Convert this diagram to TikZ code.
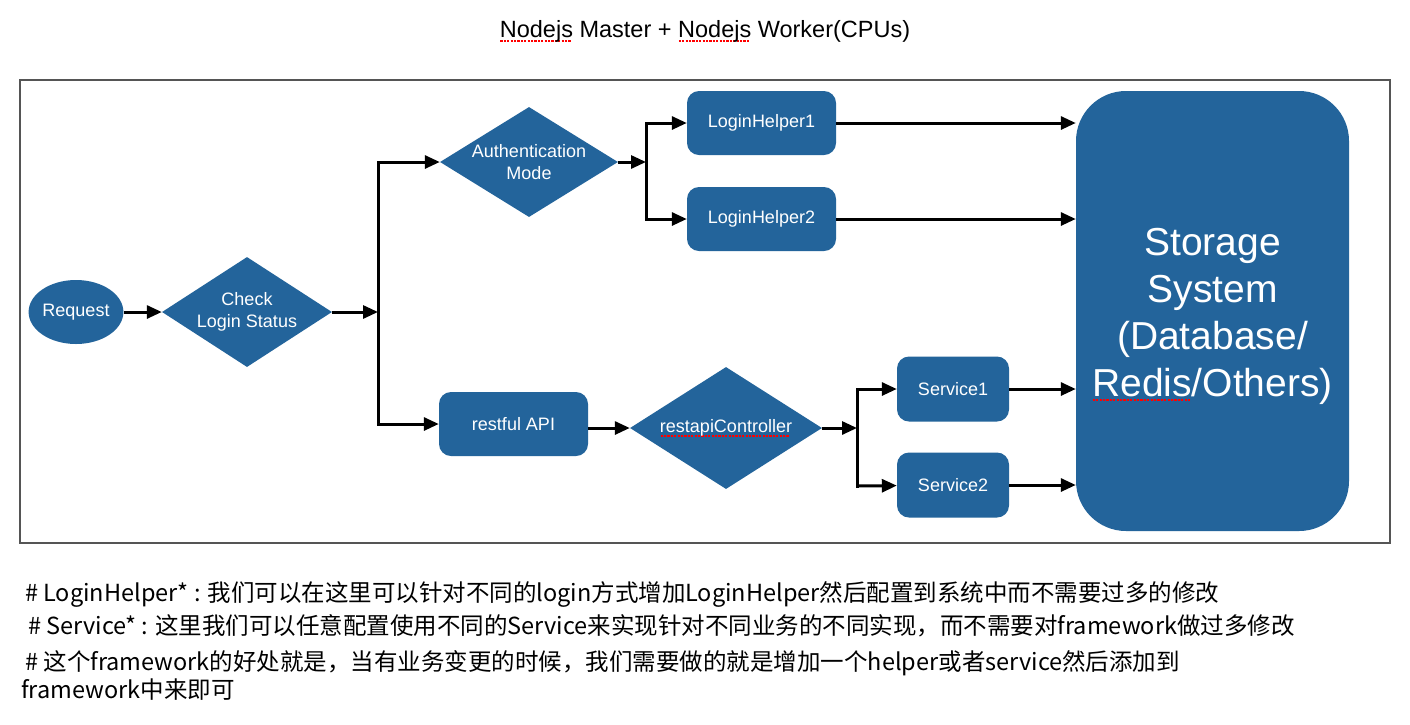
\documentclass[tikz,border=0pt]{standalone}
\usepackage{fontspec}
\setmainfont{Liberation Sans}
\newfontfamily\cjk{Noto Sans CJK SC}
\usetikzlibrary{shapes.geometric,arrows.meta}
\definecolor{boxblue}{RGB}{35,100,155}
\definecolor{framegray}{RGB}{85,85,85}
\newcommand\spellmark[1]{\setbox0=\hbox{#1}\rlap{\raisebox{-4.5pt}{\color{red}\leaders\hbox to 3.4pt{\hss\rule{2.2pt}{2pt}\hss}\hskip\wd0}}\box0\relax}
\begin{document}
\begin{tikzpicture}[x=1pt,y=-1pt,
  blueshape/.style={fill=boxblue, draw=none, text=white, font=\fontsize{18}{21.6}\selectfont, align=center, inner sep=0pt},
  roundbox/.style={blueshape, rectangle, rounded corners=12pt, minimum width=149pt, minimum height=64pt},
  decision/.style={blueshape, diamond},
  arr/.style={line width=3pt, -{Triangle[length=15pt,width=13pt]}},
  barline/.style={line width=3pt, line cap=rect},
  note/.style={anchor=west, inner sep=0pt, font=\cjk\fontsize{23.5}{28}\selectfont}
]
\useasboundingbox (0,0) rectangle (1410,724);
\fill[white] (0,0) rectangle (1410,724);

% title
\node[font=\fontsize{23.5}{27}\selectfont] (title) at (705,31) {\spellmark{Nodejs} Master + \spellmark{Nodejs} Worker(CPUs)};

% frame
\draw[framegray, line width=1.6pt] (20,80) rectangle (1390,543);

% nodes
\node[blueshape, ellipse, minimum width=94pt, minimum height=64pt] (req) at (76,312) {Request};
\node[decision, aspect=1.545, minimum width=170pt, minimum height=110pt] (check) at (247,312) {Check\\Login Status};
\node[decision, aspect=1.618, minimum width=178pt, minimum height=110pt] (auth) at (529,162) {Authentication\\Mode};
\node[roundbox] (lh1) at (761.5,123) {LoginHelper1};
\node[roundbox] (lh2) at (761.5,219) {LoginHelper2};
\node[roundbox] (rest) at (513.5,424) {restful API};
\node[decision, aspect=1.574, minimum width=192pt, minimum height=122pt] (ctrl) at (726,428) {\spellmark{restapiController}};
\node[roundbox, minimum width=112pt, minimum height=65pt] (s1) at (953,389) {Service1};
\node[roundbox, minimum width=112pt, minimum height=65pt] (s2) at (953,485) {Service2};
\node[blueshape, rectangle, rounded corners=50pt, minimum width=273pt, minimum height=440pt] (stor) at (1212.5,311) {};
\node[text=white, align=center, inner sep=0pt, font=\fontsize{39}{47}\selectfont] (stortext) at (1212.5,316) {Storage\\System\\(Database/\\\spellmark{Redis}/Others)};

% junction coordinates
\coordinate (b1) at (378,312);
\coordinate (b1t) at (378,162);
\coordinate (b1b) at (378,424);
\coordinate (b2) at (646,162);
\coordinate (b2t) at (646,123);
\coordinate (b2b) at (646,219);
\coordinate (b3) at (857,428);
\coordinate (b3t) at (857,389);
\coordinate (b3b) at (857,486);

% connectors
\draw[arr] (req) -- (check);
\draw[arr] (check) -- (b1);
\draw[barline] (b1t) -- (b1b);
\draw[arr] (b1t) -- (auth);
\draw[arr] (b1b) -- (rest);
\draw[arr] (auth.east) -- (b2);
\draw[barline] (b2t) -- (b2b);
\draw[arr] (b2t) -- (lh1);
\draw[arr] (b2b) -- (lh2);
\draw[arr] (lh1) -- (lh1 -| stor.west);
\draw[arr] (lh2) -- (lh2 -| stor.west);
\draw[arr] (rest.east |- ctrl) -- (ctrl);
\draw[arr] (ctrl.east) -- (b3);
\draw[barline] (b3t) -- (b3b);
\draw[arr] (b3t) -- (s1);
\draw[arr] (b3b) -- (s2);
\draw[arr] (s1) -- (s1 -| stor.west);
\draw[arr] (s2) -- (s2 -| stor.west);

% notes
\node[note] (n1) at (25,594) {\# LoginHelper* : 我们可以在这里可以针对不同的login方式增加LoginHelper然后配置到系统中而不需要过多的修改};
\node[note] (n2) at (28,626) {\# Service* : 这里我们可以任意配置使用不同的Service来实现针对不同业务的不同实现，而不需要对framework做过多修改};
\node[note] (n3) at (25,663) {\# 这个framework的好处就是，当有业务变更的时候，我们需要做的就是增加一个helper或者service然后添加到};
\node[note] (n4) at (21,690) {framework中来即可};
\end{tikzpicture}
\end{document}
